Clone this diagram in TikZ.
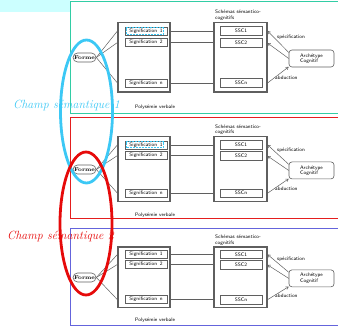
\documentclass[tikz,border=0pt]{standalone}
\usetikzlibrary{fit,arrows.meta}
\definecolor{frameg}{RGB}{50,205,165}
\definecolor{framer}{RGB}{228,30,30}
\definecolor{frameb}{RGB}{100,100,220}
\definecolor{cyanl}{RGB}{60,200,245}
\definecolor{redl}{RGB}{230,10,10}
\definecolor{band}{RGB}{204,255,255}
\definecolor{boxg}{RGB}{95,95,95}
\tikzset{
 tinyf/.style={font=\fontsize{5.1}{5.3}\selectfont\sffamily},
 formebox/.style={draw=boxg, line width=0.6pt, rounded corners=4.5pt, minimum width=23pt, minimum height=9pt, inner sep=0pt, font=\fontsize{5.5}{6}\selectfont\bfseries},
 bigbox/.style={draw=boxg, line width=1.1pt, inner sep=0pt},
 sigbox/.style={draw=boxg, line width=0.6pt, minimum width=42pt, minimum height=8pt, inner sep=0pt, tinyf},
 sscbox/.style={draw=boxg, line width=0.6pt, minimum width=42pt, minimum height=8.5pt, inner sep=0pt, tinyf},
 archbox/.style={draw=boxg, line width=0.6pt, rounded corners=3pt, minimum width=45pt, minimum height=17pt, inner sep=1pt, align=left, tinyf},
 lbl/.style={tinyf, inner sep=0pt},
 conn/.style={draw=boxg, line width=0.5pt},
 arr/.style={conn, -{Straight Barb[length=2.5pt,width=3pt]}},
 hl/.style={draw=cyanl, line width=1pt, dash pattern=on 2pt off 1pt},
 champ/.style={font=\fontsize{11.9}{12}\selectfont\itshape, inner sep=0pt, anchor=base west},
}
\newcommand\semdiag[3]{%
\begin{scope}[shift={(0,#2)}, yscale=#3]
\node[formebox] (#1f) at (84.5,0) {Forme};
\coordinate (#1l1) at (118,-35);
\coordinate (#1l2) at (170,34.5);
\coordinate (#1r1) at (214,-35);
\coordinate (#1r2) at (267,34.5);
\node[bigbox, fit=(#1l1)(#1l2)] (#1lb) {};
\node[bigbox, fit=(#1r1)(#1r2)] (#1rb) {};
\node[sigbox] (#1s1) at (146,-26.5) {Signification\enspace 1};
\node[sigbox] (#1s2) at (146,-15) {Signification\enspace 2};
\node[sigbox] (#1sn) at (146,25.5) {Signification\enspace n};
\node[sscbox] (#1c1) at (241,-26.5) {SSC1};
\node[sscbox] (#1c2) at (241,-14.5) {SSC2};
\node[sscbox] (#1cn) at (241,25.5) {SSCn};
\node[lbl, anchor=south west, align=left] (#1sch) at (215,-37) {Schémas sémantico-\\cognitifs};
\node[archbox] (#1a) at (311.5,1) {Archétype\\Cognitif};
\node[lbl] (#1pv) at (155,49.5) {Polysémie verbale};
\node[lbl, anchor=west] (#1sp) at (277,-20.5) {spécification};
\node[lbl, anchor=west] (#1ab) at (275,20.5) {abduction};
\draw[conn] (#1f.east) -- (#1s1 -| #1lb.west);
\draw[conn] (#1f.east) -- (#1s2 -| #1lb.west);
\draw[conn] (#1f.east) -- (#1sn -| #1lb.west);
\draw[conn] (#1s1 -| #1lb.east) -- (#1s1 -| #1rb.west);
\draw[conn] (#1s2 -| #1lb.east) -- (#1s2 -| #1rb.west);
\draw[conn] (#1sn -| #1lb.east) -- (#1sn -| #1rb.west);
\draw[arr] (#1a.165) -- (#1c1 -| #1rb.east);
\draw[arr] (#1a.180) -- (#1c2 -| #1rb.east);
\draw[arr] (#1cn -| #1rb.east) -- (#1a.200);
\end{scope}}
\begin{document}
\begin{tikzpicture}[x=1pt,y=-1pt]
\useasboundingbox (0,0) rectangle (338,328);
\clip (0,0) rectangle (338,328);
\fill[band] (0,0) rectangle (70,12);
\draw[frameg, line width=0.9pt] (70.5,1.5) rectangle (345,113);
\draw[framer, line width=0.9pt] (70.5,117.5) rectangle (345,218.5);
\draw[frameb, line width=0.9pt] (70.5,228.5) rectangle (345,325);
\semdiag{a}{57.5}{1}
\semdiag{b}{169.5}{0.93}
\semdiag{c}{277.5}{0.87}
\draw[hl] ([xshift=1.5pt,yshift=1.2pt]as1.south west) rectangle ([xshift=-4pt,yshift=-1.2pt]as1.north east);
\draw[hl] ([xshift=1.5pt,yshift=1.2pt]bs1.south west) rectangle ([xshift=-4pt,yshift=-1.2pt]bs1.north east);
\node[champ, text=cyanl] (champ1) at (13,109) {Champ sémantique 1};
\node[champ, text=redl] (champ2) at (7,240) {Champ sémantique 2};
\draw[cyanl, line width=2.8pt] (86.5,111.5) ellipse [x radius=26pt, y radius=71.5pt];
\draw[redl, line width=2.8pt] (86,223.5) ellipse [x radius=26pt, y radius=71.5pt];
\end{tikzpicture}
\end{document}
